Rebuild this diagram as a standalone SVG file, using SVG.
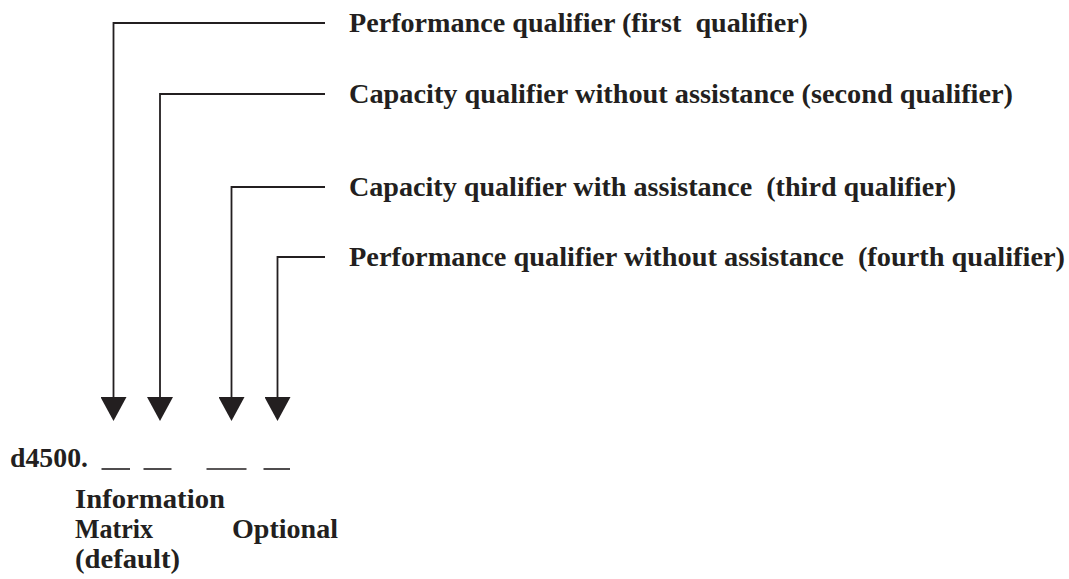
<svg xmlns="http://www.w3.org/2000/svg" width="1069" height="579" viewBox="0 0 1069 579">
<style>
.t{font-family:"Liberation Serif","Times New Roman",serif;font-weight:bold;font-size:28px;fill:#231f20;white-space:pre}
.c{fill:none;stroke:#231f20;stroke-width:1.8}
.u{stroke:#231f20;stroke-width:1.6}
</style>
<defs>
<marker id="ah" markerUnits="userSpaceOnUse" markerWidth="24" markerHeight="26" refX="13" refY="13" orient="auto">
<path d="M0,0 L24,13 L0,26 Z" fill="#231f20"/>
</marker>
</defs>
<rect width="1069" height="579" fill="#fff"/>
<g id="connectors">
<path class="c" d="M325,23 H113.5 V410" marker-end="url(#ah)"/>
<path class="c" d="M325,94 H160 V410" marker-end="url(#ah)"/>
<path class="c" d="M325,187 H231.5 V410" marker-end="url(#ah)"/>
<path class="c" d="M325,257 H277.5 V410" marker-end="url(#ah)"/>
</g>
<g id="q1"><text class="t" x="349" y="32" textLength="459" lengthAdjust="spacingAndGlyphs" xml:space="preserve">Performance qualifier (first  qualifier)</text></g>
<g id="q2"><text class="t" x="349" y="103" textLength="664" lengthAdjust="spacingAndGlyphs">Capacity qualifier without assistance (second qualifier)</text></g>
<g id="q3"><text class="t" x="349" y="196" textLength="607" lengthAdjust="spacingAndGlyphs" xml:space="preserve">Capacity qualifier with assistance  (third qualifier)</text></g>
<g id="q4"><text class="t" x="349" y="266" textLength="716" lengthAdjust="spacingAndGlyphs" xml:space="preserve">Performance qualifier without assistance  (fourth qualifier)</text></g>
<g id="code">
<text class="t" x="10" y="467" textLength="78" lengthAdjust="spacingAndGlyphs">d4500.</text>
<line class="u" x1="101.5" y1="469" x2="130" y2="469"/>
<line class="u" x1="143.5" y1="469" x2="171.5" y2="469"/>
<line class="u" x1="206.5" y1="469" x2="246.5" y2="469"/>
<line class="u" x1="263.5" y1="469" x2="290" y2="469"/>
</g>
<g id="info">
<text class="t" x="75" y="508" textLength="150" lengthAdjust="spacingAndGlyphs">Information</text>
<text class="t" x="75" y="538" textLength="78" lengthAdjust="spacingAndGlyphs">Matrix</text>
<text class="t" x="75" y="568" textLength="105" lengthAdjust="spacingAndGlyphs">(default)</text>
</g>
<g id="optional"><text class="t" x="232" y="538" textLength="106" lengthAdjust="spacingAndGlyphs">Optional</text></g>
</svg>
